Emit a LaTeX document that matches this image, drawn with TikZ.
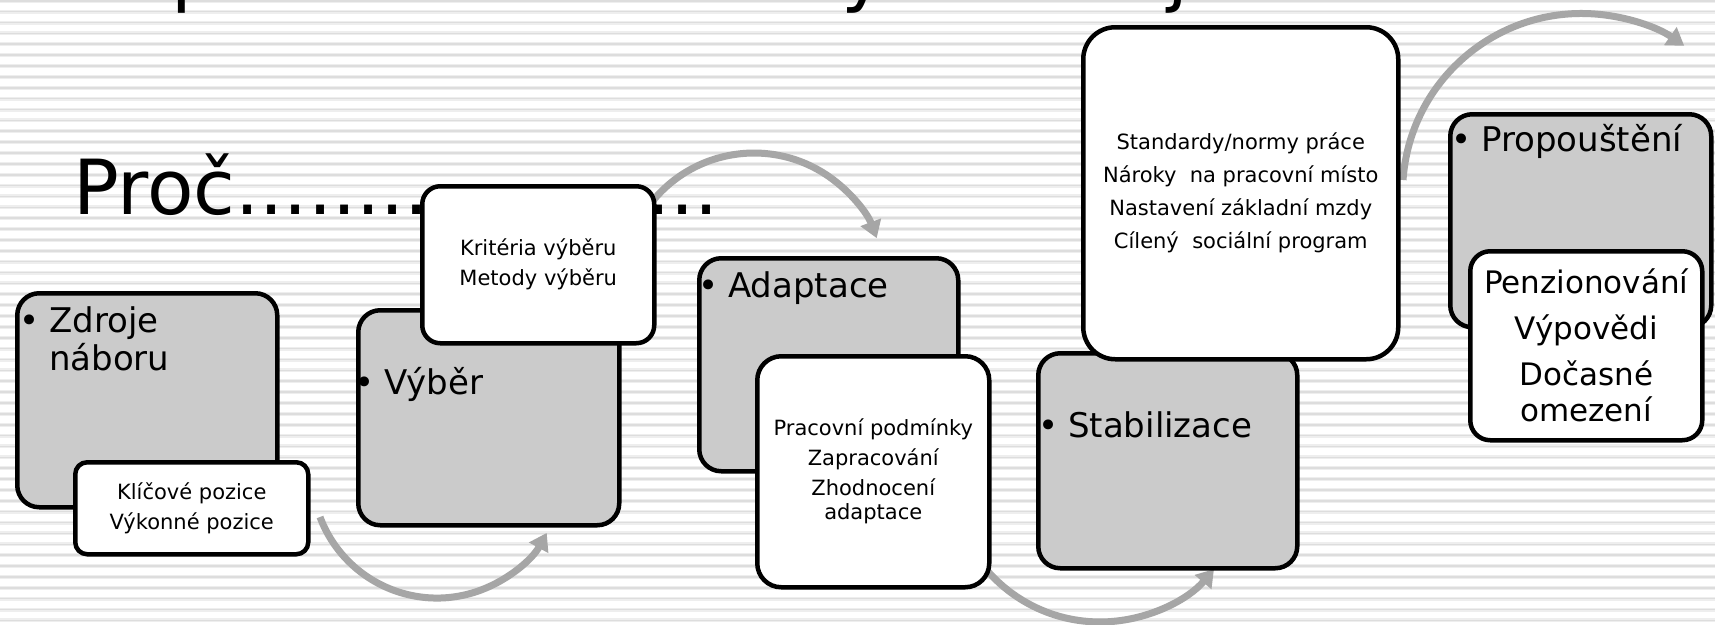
\documentclass[tikz,border=0pt]{standalone}
\usepackage{fontspec}
\setmainfont{DejaVu Sans}
\usetikzlibrary{arrows.meta}
\definecolor{boxgrey}{RGB}{203,203,203}
\definecolor{arrowgrey}{RGB}{166,166,166}
\definecolor{stripedark}{RGB}{221,221,221}
\definecolor{stripelight}{RGB}{238,238,238}
\tikzset{
  greybox/.style={draw=black, line width=4.5pt, fill=boxgrey, rounded corners=22pt, anchor=north west, inner sep=0pt},
  whitebox/.style={draw=black, line width=4.5pt, fill=white, anchor=north west, inner sep=0pt, align=center},
  greytitle/.style={anchor=base west, inner sep=0pt, align=left, font=\fontsize{34}{38}\selectfont},
  smalltext/.style={font=\fontsize{21}{30}\selectfont},
  bigtext/.style={anchor=base west, inner sep=0pt, font=\fontsize{76}{80}\selectfont},
  flowarrow/.style={draw=arrowgrey, line width=7pt, -{Triangle[width=21pt,length=17pt]}},
}
\newcommand{\bul}{\llap{•\hspace{10pt}}}
\begin{document}
\begin{tikzpicture}[x=1pt,y=-1pt]
\useasboundingbox (0,0) rectangle (1715,624);
\clip (0,0) rectangle (1715,624);
\fill[white] (0,0) rectangle (1715,624);
\foreach \k in {0,...,57} {
  \draw[stripelight, line width=4pt] (0,{0.8+10.87*\k}) -- (1715,{0.8+10.87*\k});
  \draw[stripedark, line width=1.6pt] (0,{0.8+10.87*\k}) -- (1715,{0.8+10.87*\k});
}
% cut-off title (only descenders visible)
\node[bigtext] (tp) at (171,-3) {p};
\node[bigtext] (ty) at (841,-3) {y};
\node[bigtext] (tj) at (1167,-3) {j};
% big text
\node[bigtext] (proc) at (73,214) {Proč....................};
% arrows
\coordinate (a1s) at (320,517);
\draw[flowarrow] (a1s) arc[start angle=159.4, end angle=28.6, radius=125];
\coordinate (a2s) at (646.7,208.9);
\draw[flowarrow] (a2s) arc[start angle=215, end angle=339.5, radius=131];
\coordinate (a3s) at (977.5,558.2);
\draw[flowarrow] (a3s) arc[start angle=145, end angle=40.3, radius=149.5];
\coordinate (a4s) at (1403,180);
\draw[flowarrow] (a4s) arc[start angle=184, end angle=305, radius=179];
% 1 Zdroje
\node[greybox, minimum width=260pt, minimum height=214pt] (zb) at (15,291) {};
\node[greytitle] (zt) at (49,370) {\bul Zdroje\\náboru};
\node[whitebox, rounded corners=12pt, minimum width=233pt, minimum height=92pt, smalltext] (kb) at (73,460) {Klíčové pozice\\Výkonné pozice};
% 2 Vyber
\node[greybox, minimum width=261pt, minimum height=215pt] (vb) at (356,308) {};
\node[greytitle] (vt) at (384,394) {\bul Výběr};
\node[whitebox, rounded corners=18pt, minimum width=232pt, minimum height=157pt, smalltext] (krb) at (420,184) {Kritéria výběru\\Metody výběru};
% 3 Adaptace
\node[greybox, minimum width=259pt, minimum height=213pt] (ab) at (697,256) {};
\node[greytitle] (at) at (728,297) {\bul Adaptace};
\node[whitebox, rounded corners=24pt, minimum width=232pt, minimum height=231pt, smalltext] (pb) at (755,354) {Pracovní podmínky\\Zapracování\\Zhodnocení\\[-6pt]adaptace};
% 4 Stabilizace
\node[greybox, minimum width=259pt, minimum height=215pt] (sb) at (1036,351) {};
\node[greytitle] (st) at (1068,437) {\bul Stabilizace};
\node[whitebox, rounded corners=32pt, minimum width=315pt, minimum height=332pt, font=\fontsize{21}{33}\selectfont] (stb) at (1081,25) {Standardy/normy práce\\Nároky\ \ na pracovní místo\\Nastavení základní mzdy\\Cílený\ \ sociální program};
% 5 Propousteni
\node[greybox, minimum width=261pt, minimum height=213pt] (prb) at (1448,112) {};
\node[greytitle] (prt) at (1481,151) {\bul Propouštění};
\node[whitebox, rounded corners=20pt, minimum width=232pt, minimum height=189pt, font=\fontsize{31}{46}\selectfont] (pnb) at (1468,249) {Penzionování\\Výpovědi\\Dočasné\\[-10pt]omezení};
\end{tikzpicture}
\end{document}
